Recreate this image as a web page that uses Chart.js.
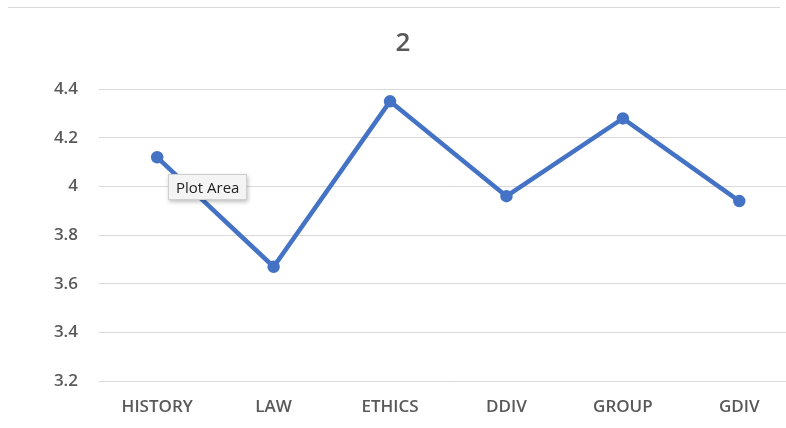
<!DOCTYPE html>
<html lang="en">
<head>
    <meta charset="UTF-8">
    <title>2</title>
    <script src="https://cdn.jsdelivr.net/npm/chart.js"></script>
    <style>
        html, body {
            margin: 0;
            padding: 0;
            background: #fff;
            overflow: hidden;
        }
        .container {
            position: relative;
            width: 806px;
            height: 428px;
        }
        .topline {
            position: absolute;
            left: 8px;
            width: 772px;
            top: 7px;
            border-top: 1px solid #d9d9d9;
        }
        .tip {
            position: absolute;
            left: 168px;
            top: 174px;
            padding: 2px 7px;
            font-family: "Open Sans", sans-serif;
            font-size: 15px;
            color: #222;
            background: #f4f4f4;
            border: 1px solid #cfcfcf;
            box-shadow: 1px 2px 4px rgba(0,0,0,0.25);
        }
    </style>
</head>
<body>
    <div class="container">
        <canvas id="lineChart" width="806" height="428"></canvas>
        <div class="topline"></div>
        <div class="tip">Plot Area</div>
    </div>

    <script>
        const categories = ["HISTORY", "LAW", "ETHICS", "DDIV", "GROUP", "GDIV"];
        const values = [4.12, 3.67, 4.35, 3.96, 4.28, 3.94];
        const yMin = 3.2;
        const yMax = 4.4;
        const yStep = 0.2;

        const labelFont = { family: "'Open Sans', sans-serif", size: 17, weight: '600' };

        let ctx = document.getElementById("lineChart").getContext("2d");
        let chart = new Chart(ctx, {
            type: 'line',
            data: {
                labels: categories,
                datasets: [{
                    label: '2',
                    data: values,
                    borderColor: '#4472C4',
                    backgroundColor: '#4472C4',
                    borderWidth: 4.5,
                    pointRadius: 4,
                    pointHoverRadius: 4,
                    tension: 0,
                    fill: false
                }]
            },
            options: {
                responsive: false,
                animation: false,
                layout: { padding: { left: 0, right: 0, top: 0, bottom: 0 } },
                plugins: {
                    legend: { display: false },
                    tooltip: { enabled: false },
                    title: {
                        display: true,
                        text: '2',
                        color: '#595959',
                        font: { family: "'Open Sans', sans-serif", size: 26, weight: '600' },
                        padding: { top: 28, bottom: 30 }
                    }
                },
                scales: {
                    x: {
                        offset: true,
                        afterFit: function (scale) { scale.height = 47; },
                        grid: { display: false, drawTicks: false },
                        border: { display: false },
                        ticks: { color: '#595959', font: labelFont, padding: 16 }
                    },
                    y: {
                        min: yMin,
                        max: yMax,
                        afterFit: function (scale) { scale.width = 99; },
                        grid: { color: '#d9d9d9', lineWidth: 1, drawTicks: false },
                        border: { display: false },
                        ticks: {
                            stepSize: yStep,
                            color: '#595959',
                            font: labelFont,
                            padding: 21,
                            callback: function (v) { return String(Math.round(v * 10) / 10); }
                        }
                    }
                }
            }
        });
    </script>
</body>
</html>
